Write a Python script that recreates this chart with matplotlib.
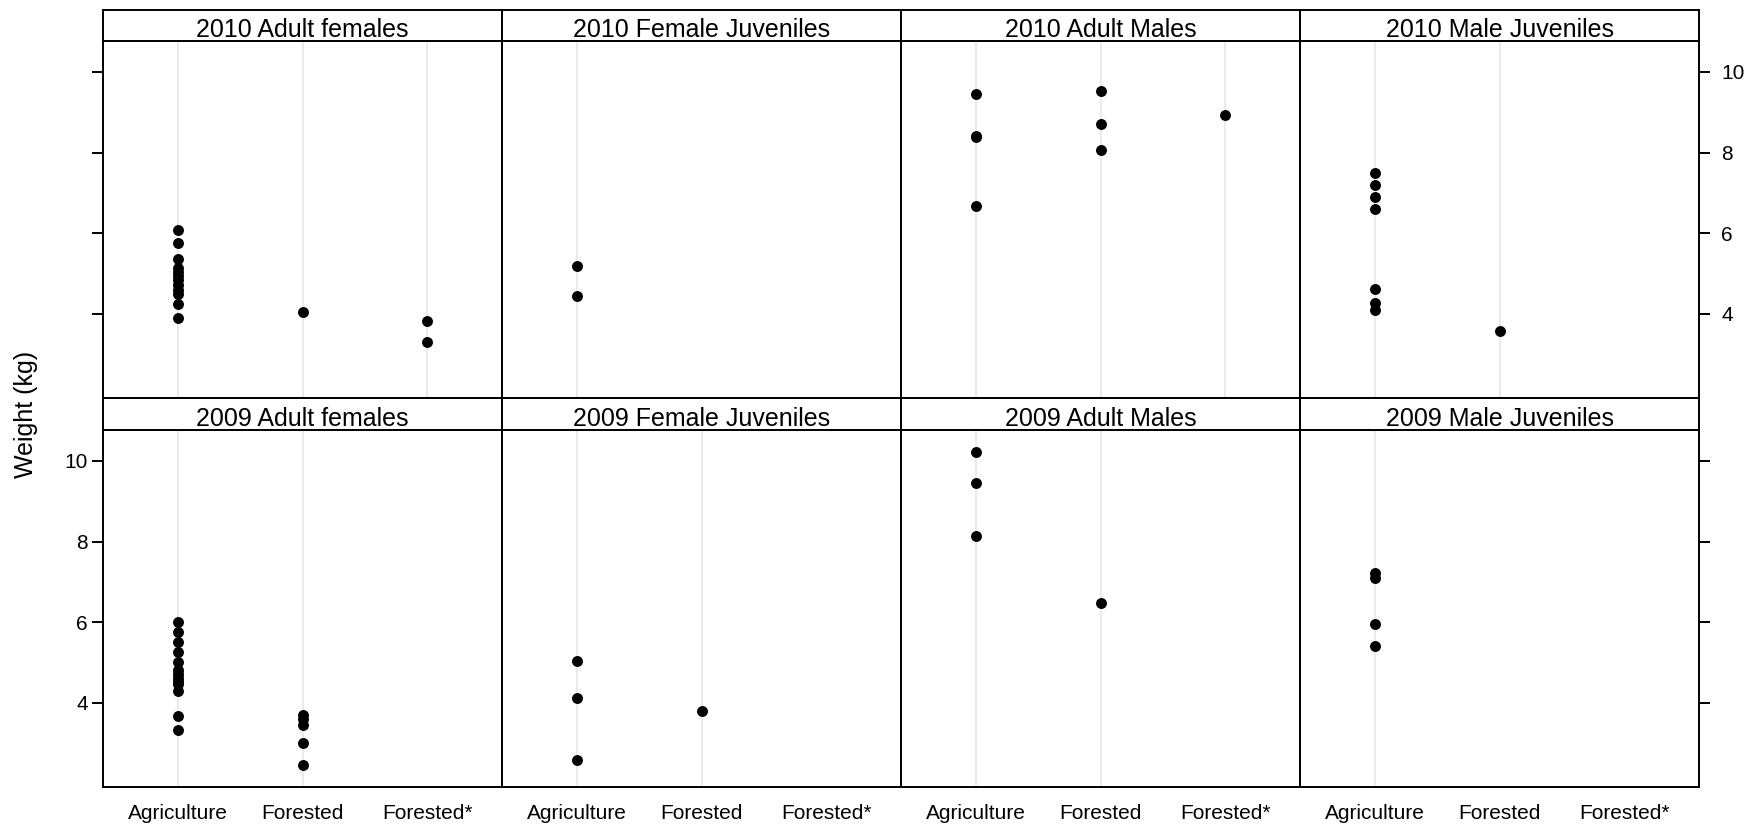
import matplotlib.pyplot as plt

plt.rcParams['font.family'] = ['Liberation Sans', 'DejaVu Sans']

habitats = ["Agriculture", "Forested", "Forested*"]
years = ["2010", "2009"]
groups = ["Adult females", "Female Juveniles", "Adult Males", "Male Juveniles"]

# weights (kg), one dict per panel
af_2010 = {"Agriculture": [6.08, 5.75, 5.37, 5.15, 5.05, 4.95, 4.85, 4.72, 4.60, 4.50, 4.25, 3.89],
           "Forested": [4.05],
           "Forested*": [3.82, 3.30]}
fj_2010 = {"Agriculture": [5.20, 4.45], "Forested": [], "Forested*": []}
am_2010 = {"Agriculture": [9.46, 8.42, 8.38, 6.67],
           "Forested": [9.53, 8.70, 8.06],
           "Forested*": [8.94]}
mj_2010 = {"Agriculture": [7.48, 7.19, 6.90, 6.59, 4.62, 4.27, 4.09],
           "Forested": [3.57],
           "Forested*": []}

af_2009 = {"Agriculture": [6.01, 5.75, 5.50, 5.27, 5.02, 4.82, 4.72, 4.62, 4.55, 4.47, 4.29, 3.68, 3.33],
           "Forested": [3.71, 3.59, 3.46, 3.01, 2.46],
           "Forested*": []}
fj_2009 = {"Agriculture": [5.04, 4.12, 2.58], "Forested": [3.81], "Forested*": []}
am_2009 = {"Agriculture": [10.22, 9.44, 8.13], "Forested": [6.47], "Forested*": []}
mj_2009 = {"Agriculture": [7.22, 7.10, 5.96, 5.40], "Forested": [], "Forested*": []}

panel_data = {
    "2010": [af_2010, fj_2010, am_2010, mj_2010],
    "2009": [af_2009, fj_2009, am_2009, mj_2009],
}
y_ticks = [4, 6, 8, 10]

# common y range, lattice style padding
all_vals = [v for yr in years for d in panel_data[yr] for h in habitats for v in d[h]]
lo, hi = min(all_vals), max(all_vals)
pad = 0.07 * (hi - lo)
ylim = (lo - pad, hi + pad)

W, H = 1750, 825
fig = plt.figure(figsize=(W / 100, H / 100), dpi=100)

col_left = [103, 502, 901, 1300]
col_w = 399
# (strip top, plot top, plot bottom) in pixels for each row
rows = [(10, 41, 398), (398, 430, 787)]

lw = 1.4
for r, yr in enumerate(years):
    s_top, p_top, p_bot = rows[r]
    for c, grp in enumerate(groups):
        x0 = col_left[c] / W
        ax = fig.add_axes([x0, 1 - p_bot / H, col_w / W, (p_bot - p_top) / H])
        sax = fig.add_axes([x0, 1 - p_top / H, col_w / W, (p_top - s_top) / H])

        d = panel_data[yr][c]
        for i, h in enumerate(habitats):
            ys = d[h]
            if not ys:
                continue  # dotplot only draws a guide line where there is data
            ax.axvline(i + 1, color='#e6e6e6', lw=1.2, zorder=0)
            ax.scatter([i + 1] * len(ys), ys, s=62, color='black', zorder=3, linewidths=0)

        ax.set_xlim(0.4, 3.6)
        ax.set_ylim(*ylim)
        ax.set_xticks(range(1, len(habitats) + 1))
        ax.set_yticks(y_ticks)
        for sp in ax.spines.values():
            sp.set_linewidth(lw)

        # x labels on the bottom row only, no tick marks
        ax.tick_params(axis='x', length=0, pad=12.5, labelsize=15,
                       labelbottom=(r == 1))
        if r == 1:
            ax.set_xticklabels(habitats)

        left = (c == 0)
        right = (c == len(groups) - 1)
        ax.tick_params(axis='y', which='both', left=left, right=right,
                       labelleft=(left and r == 1), labelright=(right and r == 0),
                       length=8, width=lw, labelsize=15)
        if left:
            ax.tick_params(axis='y', pad=3)
        if right:
            ax.tick_params(axis='y', pad=8)

        # strip with the panel title
        sax.set_xticks([])
        sax.set_yticks([])
        for sp in sax.spines.values():
            sp.set_linewidth(lw)
        sax.text(0.5, 0.14, f"{yr} {grp}", ha='center', va='baseline',
                 fontsize=18, transform=sax.transAxes)

fig.text(26 / W, 1 - 414 / H, "Weight (kg)", rotation=90, ha='center', va='center',
         fontsize=18)

fig.savefig("out.png", dpi=100)
